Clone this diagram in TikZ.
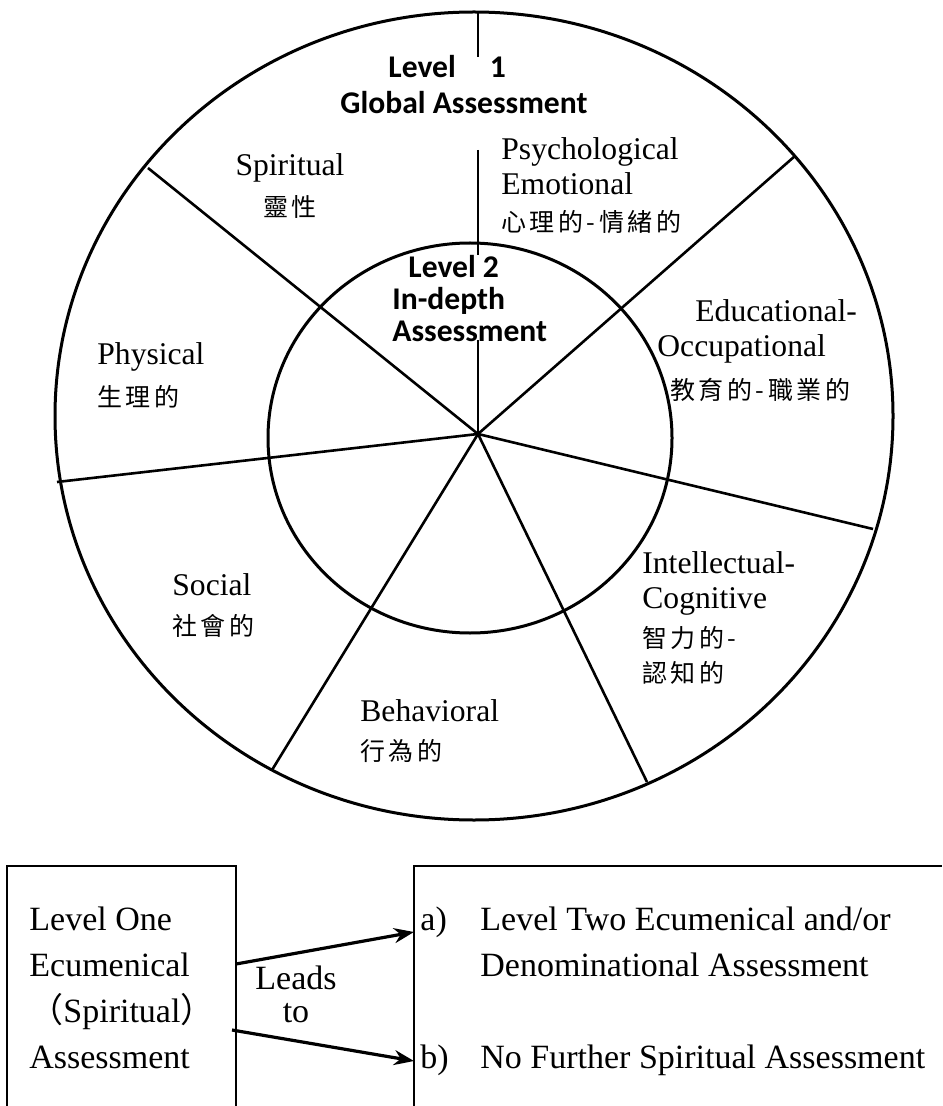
\documentclass[tikz,border=0pt]{standalone}
\usepackage{fontspec}
\setmainfont{Liberation Serif}
\newfontfamily\zh[LetterSpace=14]{Noto Sans CJK TC}
\newfontfamily\calfont{Carlito}
\usetikzlibrary{arrows.meta}
\tikzset{>=Stealth}
\tikzset{
  ring/.style={line width=1.5pt},
  spoke/.style={line width=1.3pt},
  lbl/.style={anchor=base west, align=left, inner sep=0pt,
    font=\fontsize{15.8}{17.5}\selectfont},
  lvl/.style={anchor=base west, align=left, inner sep=0pt,
    font=\calfont\bfseries\fontsize{15.8}{18}\selectfont},
  boxline/.style={line width=0.6pt},
  leads/.style={->, line width=1.6pt, >={Stealth[length=10pt,width=7.5pt]}},
  btxt/.style={anchor=base west, align=left, inner sep=0pt,
    font=\fontsize{17}{23}\selectfont},
}
\newcommand{\cj}[1]{{\zh\fontsize{12.5}{14}\selectfont #1}}

\begin{document}
\begin{tikzpicture}[x=0.5pt,y=-0.5pt]
\useasboundingbox (0,0) rectangle (942,1106);

% the two rings
\coordinate (O) at (478,434);
\draw[ring] (474,416) ellipse [x radius=419, y radius=404];
\draw[ring] (470,438) ellipse [x radius=202, y radius=195];

% spokes
\draw[spoke] (57,482) -- (O);
\draw[spoke] (148,168) -- (O);
\draw[spoke] (O) -- (795,156);
\draw[spoke] (O) -- (873,529);
\draw[spoke] (O) -- (647,782);
\draw[spoke] (O) -- (272,770);
\draw[line width=1.1pt] (478,12) -- (478,57) (478,150) -- (478,255) (478,340) -- (O);

% levels (node base = last line)
\node[lvl] (lev1) at (340,114) {\hspace*{24pt}Level\hspace{17pt}1\\Global Assessment};
\node[lvl, font=\calfont\bfseries\fontsize{15.8}{16}\selectfont] (lev2) at (392,342)
  {\hspace*{8pt}Level 2\\In-depth\\Assessment};

% sectors
\node[lbl, anchor=base, align=center] (spir) at (290,217) {Spiritual\\[3pt]\cj{靈性}};
\node[lbl] (psy) at (501,232) {Psychological\\Emotional\\[1pt]\cj{心理的-情緒的}};
\node[lbl] (edu) at (657,400) {\hspace*{19pt}Educational-\\Occupational\\[4pt]\hspace*{6.5pt}\cj{教育的-職業的}};
\node[lbl] (phys) at (97,407) {Physical\\[3.5pt]\cj{生理的}};
\node[lbl] (soc) at (172,635) {Social\\[2.5pt]\cj{社會的}};
\node[lbl] (beh) at (360,760) {Behavioral\\[2pt]\cj{行為的}};
\node[lbl] (intel) at (642,682) {Intellectual-\\Cognitive\\[2pt]\cj{智力的-}\\\cj{認知的}};

% boxes below
\draw[boxline] (7,1106) -- (7,866) -- (236,866) -- (236,1106);
\draw[boxline] (414,1106) -- (414,866) -- (942,866);
\node[btxt] (lone) at (29,1068) {Level One\\Ecumenical\\{\zh （}Spiritual{\zh ）}\\Assessment};
\node[btxt, anchor=base, align=center, font=\fontsize{17}{16.5}\selectfont] (leads) at (296,1022) {Leads\\to};
\node[btxt] (ra) at (420,930) {a)};
\node[btxt] (rat) at (480,976) {Level Two Ecumenical and/or\\Denominational Assessment};
\node[btxt] (rb) at (420,1068) {b)};
\node[btxt] (rbt) at (480,1068) {No Further Spiritual Assessment};

\coordinate (u0) at (236,964);
\coordinate (u1) at (414,932);
\coordinate (d0) at (232,1030);
\coordinate (d1) at (414,1061);
\draw[leads] (u0) -- (u1);
\draw[leads] (d0) -- (d1);
\end{tikzpicture}
\end{document}
